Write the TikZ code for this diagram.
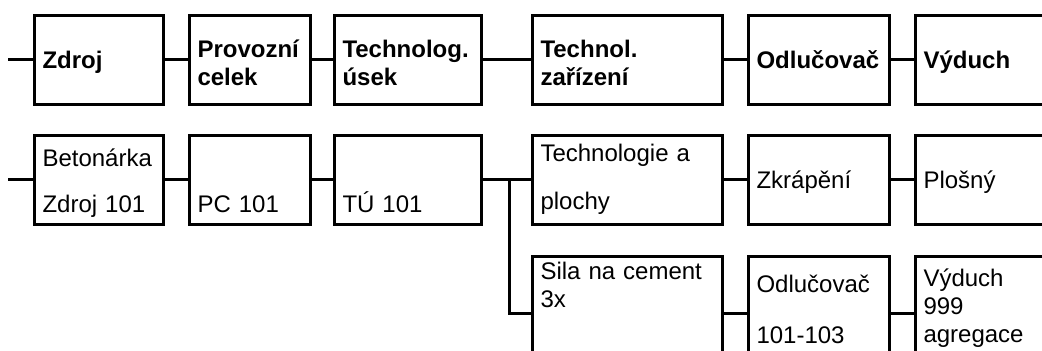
\documentclass[tikz,border=0pt]{standalone}
\usepackage{fontspec}
\setmainfont{Liberation Sans}

\tikzset{
  wire/.style={line width=1.5pt},
  cell/.style={draw, rectangle, line width=1.5pt, anchor=north west,
    inner xsep=4pt, inner ysep=0pt, align=left,
    font=\fontsize{12}{14}\selectfont},
  head/.style={cell, font=\fontsize{12}{14}\selectfont\bfseries},
  baseat/.style 2 args={text height=#1, text depth=#2},
}

\begin{document}
\begin{tikzpicture}[x=0.5pt, y=-0.5pt]
\useasboundingbox (0,0) rectangle (1042,351);
\clip (0,0) rectangle (1042,351);

% header row
\node[head, text width=56.5pt, baseat={26.5pt}{18pt}] (zdroj) at (33,14) {Zdroj};
\node[head, text width=52.5pt, baseat={21pt}{23.5pt}] (celek) at (188,14) {Provozní\\celek};
\node[head, text width=65.5pt, baseat={21pt}{23.5pt}] (usek) at (333,14) {Technolog.\\úsek};
\node[head, text width=87pt, baseat={21pt}{23.5pt}] (zariz) at (531,14) {Technol.\\zařízení};
\node[head, text width=62.5pt, baseat={26.5pt}{18pt}] (odl) at (747,14) {Odlučovač};
\node[head, text width=72pt, baseat={26.5pt}{18pt}] (vyd) at (914,14) {Výduch};

% first source
\node[cell, text width=56.5pt, baseat={15.5pt}{29pt}] (beton) at (33,134) {Betonárka\\[9pt]Zdroj 101};
\node[cell, text width=52.5pt, baseat={38.5pt}{6pt}] (pc) at (188,134) {PC 101};
\node[cell, text width=65.5pt, baseat={38.5pt}{6pt}] (tu) at (333,134) {TÚ 101};
\node[cell, text width=87pt, baseat={13pt}{31.5pt}] (techpl) at (531,134) {Technologie a\\[10pt]plochy};
\node[cell, text width=62.5pt, baseat={26.5pt}{18pt}] (zkrap) at (747,134) {Zkrápění};
\node[cell, text width=72pt, baseat={26.5pt}{18pt}] (plosny) at (914,134) {Plošný};

% second branch, boxes run off the bottom
\node[cell, text width=87pt, baseat={11.5pt}{45.5pt}] (sila) at (531,255) {Sila na cement\\3x};
\node[cell, text width=62.5pt, baseat={18pt}{39pt}] (odlr) at (747,255) {Odlučovač\\[11.5pt]101-103};
\node[cell, text width=72pt, baseat={15pt}{42pt}] (vydr) at (914,255) {Výduch\\999\\agregace};

\coordinate (in1) at ([xshift=-12.5pt]zdroj.west);
\coordinate (in2) at ([xshift=-12.5pt]beton.west);
\coordinate (split) at ([xshift=13pt]tu.east);

\draw[wire] (in1) -- (zdroj.west);
\draw[wire] (zdroj.east) -- (celek.west);
\draw[wire] (celek.east) -- (usek.west);
\draw[wire] (usek.east) -- (zariz.west);
\draw[wire] (zariz.east) -- (odl.west);
\draw[wire] (odl.east) -- (vyd.west);

\draw[wire] (in2) -- (beton.west);
\draw[wire] (beton.east) -- (pc.west);
\draw[wire] (pc.east) -- (tu.west);
\draw[wire] (tu.east) -- (techpl.west);
\draw[wire] (techpl.east) -- (zkrap.west);
\draw[wire] (zkrap.east) -- (plosny.west);

\draw[wire] (split) |- (sila.west);
\draw[wire] (sila.east) -- (odlr.west);
\draw[wire] (odlr.east) -- (vydr.west);

\end{tikzpicture}
\end{document}
